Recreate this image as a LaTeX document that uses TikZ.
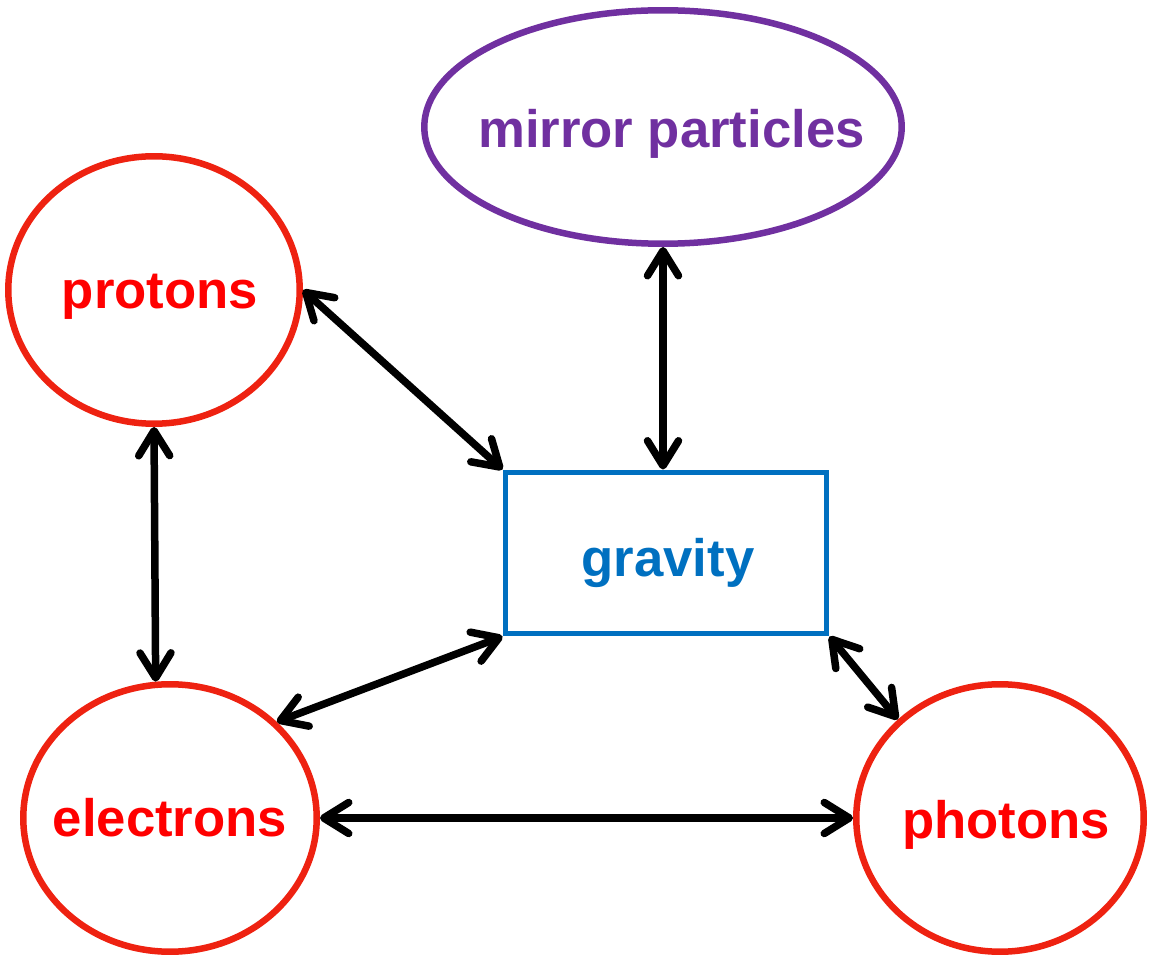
\documentclass[tikz,border=0pt]{standalone}
\usepackage{fontspec}
\setmainfont{Liberation Sans}
\usetikzlibrary{shapes.geometric,arrows.meta}
\definecolor{partred}{RGB}{238,34,17}
\definecolor{textred}{RGB}{255,0,0}
\definecolor{mirrorpurple}{RGB}{112,48,160}
\definecolor{gravblue}{RGB}{0,112,192}

\begin{document}
\begin{tikzpicture}[x=0.02cm,y=-0.02cm,
        particle/.style={ellipse,draw=partred,line width=0.13cm,
            minimum width=5.87cm,minimum height=5.35cm,inner sep=0pt},
        partlabel/.style={text=textred,yshift=-0.13cm},
        link/.style={line width=0.15cm,{Straight Barb[length=0.5cm,width=0.62cm,line cap=round,line join=round]}-{Straight Barb[length=0.5cm,width=0.62cm,line cap=round,line join=round]}},
        font=\fontsize{30}{36}\selectfont\bfseries]
        \useasboundingbox (0,0) rectangle (1154,959);
        \node[ellipse,draw=mirrorpurple,line width=0.13cm,inner sep=0pt,
            minimum width=9.55cm,minimum height=4.67cm,
            label={[text=mirrorpurple,xshift=0.17cm,yshift=-0.14cm]center:mirror particles}] (mirror) at (663,127) {};
        \node[particle,minimum width=5.83cm,label={[partlabel,xshift=0.12cm]center:protons}] (protons) at (154,290) {};
        \node[particle,label={[partlabel,yshift=0.13cm]center:electrons}] (electrons) at (170,818) {};
        \node[particle,minimum width=5.75cm,label={[partlabel,xshift=0.12cm]center:photons}] (photons) at (1000,818) {};
        \node[draw=gravblue,line width=0.1cm,text=gravblue,
            minimum width=6.44cm,minimum height=3.24cm,inner sep=0pt] (gravity) at (666,553) {};
        \node[text=gravblue] (gravlabel) at (668,563) {gravity};
        \draw[link] (protons.east) -- (gravity.north west);
        \draw[link] (mirror.south) -- (mirror.south |- gravity.north);
        \draw[link] (protons.south) -- (electrons.96);
        \draw[link] (gravity.south west) -- (electrons.42);
        \draw[link] (gravity.south east) -- (photons.136);
        \draw[link] (electrons.east) -- (photons.west);
    \end{tikzpicture}
\end{document}
